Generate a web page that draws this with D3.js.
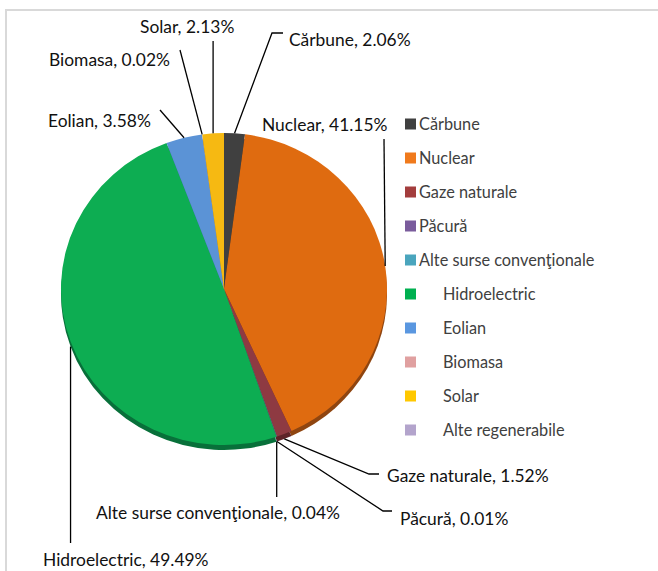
<!DOCTYPE html>
<html>
<head>
  <meta charset="utf-8">
  <script src="https://cdn.jsdelivr.net/npm/d3@7"></script>
  <style>
    body { margin: 0; background: white; }
    svg { display: block; }
    text { font-family: Lato, "Open Sans", sans-serif; }
  </style>
</head>
<body>
  <script>
    // data, clockwise from 12 o'clock
    const categories = ['Cărbune', 'Nuclear', 'Gaze naturale', 'Păcură', 'Alte surse convenţionale',
      'Hidroelectric', 'Eolian', 'Biomasa', 'Solar', 'Alte regenerabile']
    const values = [2.06, 41.15, 1.52, 0.01, 0.04, 49.49, 3.58, 0.02, 2.13, 0]
    const pieColors = ['#404040', '#df6b10', '#8e3a42', '#6f5592', '#4aa5bd',
      '#0dad52', '#5b93d6', '#e0a0a0', '#f6b912', '#b3a4cc']
    const sideColors = ['#2a2a2a', '#8f4510', '#5e2328', '#4a3a63', '#2f6f80',
      '#08703a', '#3b6296', '#a07070', '#a8800c', '#7f7399']
    const legendColors = ['#404040', '#f07a1c', '#a33d3d', '#7a5c9c', '#4aa5bd',
      '#00b050', '#5a97e0', '#e0a0a0', '#ffc800', '#b3a4cc']

    // label placement: text left x, text middle y, leader bend points (label side first)
    const labelLayout = {
      'Cărbune': { x: 289, y: 40, pts: [[283, 33], [272, 33]] },
      'Nuclear': { x: 262, y: 125, pts: [[384, 139]], box: true },
      'Gaze naturale': { x: 387, y: 476, pts: [[379, 474], [369, 474]] },
      'Păcură': { x: 400, y: 519, pts: [[392, 511], [383, 511]] },
      'Alte surse convenţionale': { x: 96, y: 513, pts: [[null, 497]] },
      'Hidroelectric': { x: 43, y: 560, pts: [[null, 543]] },
      'Eolian': { x: 48, y: 121, pts: [[160, 110]] },
      'Biomasa': { x: 49, y: 60, pts: [[180, 50]] },
      'Solar': { x: 140, y: 27, pts: [[null, 41]] }
    }

    const width = 658, height = 571
    const cx = 224, cy = 289, rx = 163, ry = 156, depth = 5

    const svg = d3.select('body').append('svg')
      .attr('width', width)
      .attr('height', height)

    // chart frame
    svg.append('rect')
      .attr('x', 6).attr('y', 10)
      .attr('width', 700).attr('height', 600)
      .attr('fill', 'none')
      .attr('stroke', '#d9d9d9')
      .attr('stroke-width', 2)

    const pie = d3.pie().sort(null).value(d => d.v)
    const slices = pie(categories.map((c, i) => ({ c, v: values[i], i })))
    const arc = d3.arc().innerRadius(0).outerRadius(rx)

    // bottom rim of the tilted pie
    svg.append('g')
      .attr('transform', `translate(${cx},${cy + depth}) scale(1,${ry / rx})`)
      .selectAll('path')
      .data(slices)
      .join('path')
      .attr('d', arc)
      .attr('fill', d => sideColors[d.data.i])

    svg.append('g')
      .attr('transform', `translate(${cx},${cy}) scale(1,${ry / rx})`)
      .selectAll('path')
      .data(slices)
      .join('path')
      .attr('d', arc)
      .attr('fill', d => pieColors[d.data.i])

    // edge point of a slice at its middle angle
    function edgePoint(d) {
      const a = (d.startAngle + d.endAngle) / 2
      const c = Math.cos(a)
      return [cx + rx * Math.sin(a), cy - ry * c + (c < -0.3 ? depth : 0)]
    }

    const labels = svg.append('g')
    slices.filter(d => d.data.v > 0).forEach(d => {
      const lay = labelLayout[d.data.c]
      const p = edgePoint(d)
      const pts = lay.pts.map(q => [q[0] === null ? p[0] : q[0], q[1]])
      pts.push(p)
      labels.append('path')
        .attr('d', d3.line()(pts))
        .attr('fill', 'none')
        .attr('stroke', '#000')
        .attr('stroke-width', 1.3)
    })
    slices.filter(d => d.data.v > 0).forEach(d => {
      const lay = labelLayout[d.data.c]
      const t = labels.append('text')
        .attr('x', lay.x)
        .attr('y', lay.y)
        .attr('dy', '0.35em')
        .attr('font-size', 17.4)
        .attr('fill', '#111')
        .text(`${d.data.c}, ${d.data.v.toFixed(2)}%`)
      if (lay.box) {
        const b = t.node().getBBox()
        labels.insert('rect', () => t.node())
          .attr('x', b.x - 9).attr('y', b.y - 2)
          .attr('width', b.width + 10).attr('height', b.height + 2)
          .attr('fill', 'white')
      }
    })

    // legend
    const legendY = d3.scalePoint().domain(categories).range([124, 430])
    const legend = svg.append('g').selectAll('g')
      .data(categories)
      .join('g')
      .attr('transform', d => `translate(405,${legendY(d)})`)
    legend.append('rect')
      .attr('x', 0).attr('y', -5.5)
      .attr('width', 11).attr('height', 11)
      .attr('fill', (d, i) => legendColors[i])
    legend.append('text')
      .attr('x', (d, i) => i < 5 ? 14 : 38)
      .attr('dy', '0.35em')
      .attr('font-size', 16.3)
      .attr('fill', '#404040')
      .text(d => d)
  </script>
</body>
</html>
